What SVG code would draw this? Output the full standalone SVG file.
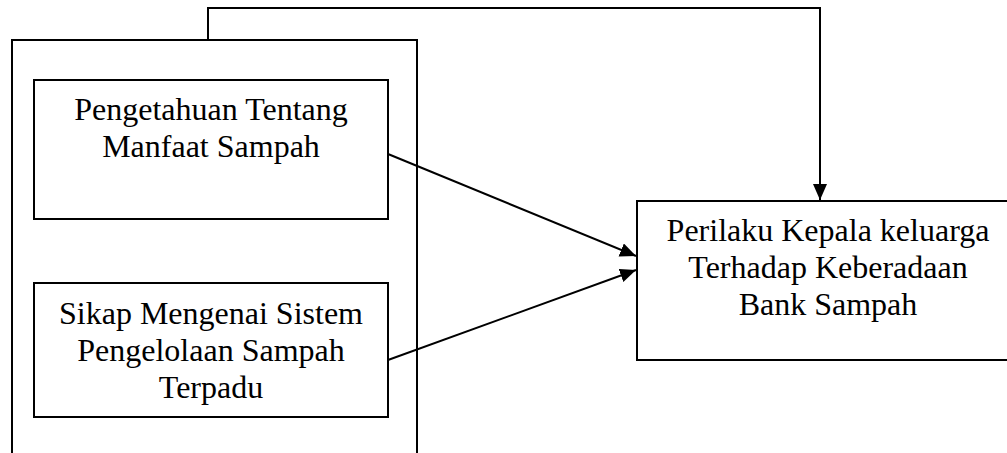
<svg xmlns="http://www.w3.org/2000/svg" width="1007" height="453" viewBox="0 0 1007 453">
<defs>
<style>
.box{fill:none;stroke:#000;stroke-width:2}
.lbl{font-family:"Liberation Serif","Times New Roman",serif;font-size:32px;fill:#000;text-anchor:middle}
.con{fill:none;stroke:#000;stroke-width:2}
</style>
<marker id="ah" markerUnits="userSpaceOnUse" markerWidth="18" markerHeight="16" refX="16" refY="7" orient="auto">
<path d="M0,0 L16,7 L0,14 z" fill="#000"/>
</marker>
</defs>
<rect width="1007" height="453" fill="#fff"/>
<g id="outer">
<rect class="box" x="12" y="40" width="405" height="440"/>
</g>
<g id="node-pengetahuan">
<rect class="box" x="34" y="80" width="354" height="139"/>
<text class="lbl" x="211" y="120">Pengetahuan Tentang</text>
<text class="lbl" x="211" y="157">Manfaat Sampah</text>
</g>
<g id="node-sikap">
<rect class="box" x="34" y="283" width="354" height="134"/>
<text class="lbl" x="211" y="324">Sikap Mengenai Sistem</text>
<text class="lbl" x="211" y="361">Pengelolaan Sampah</text>
<text class="lbl" x="211" y="398">Terpadu</text>
</g>
<g id="node-perilaku">
<rect class="box" x="637" y="201" width="385" height="159"/>
<text class="lbl" x="828" y="241">Perilaku Kepala keluarga</text>
<text class="lbl" x="828" y="278">Terhadap Keberadaan</text>
<text class="lbl" x="828" y="315">Bank Sampah</text>
</g>
<g id="connectors">
<polyline class="con" points="208,40 208,8 820,8 820,200" marker-end="url(#ah)"/>
<line class="con" x1="388" y1="154" x2="636" y2="256" marker-end="url(#ah)"/>
<line class="con" x1="388" y1="360" x2="636" y2="270" marker-end="url(#ah)"/>
</g>
</svg>
